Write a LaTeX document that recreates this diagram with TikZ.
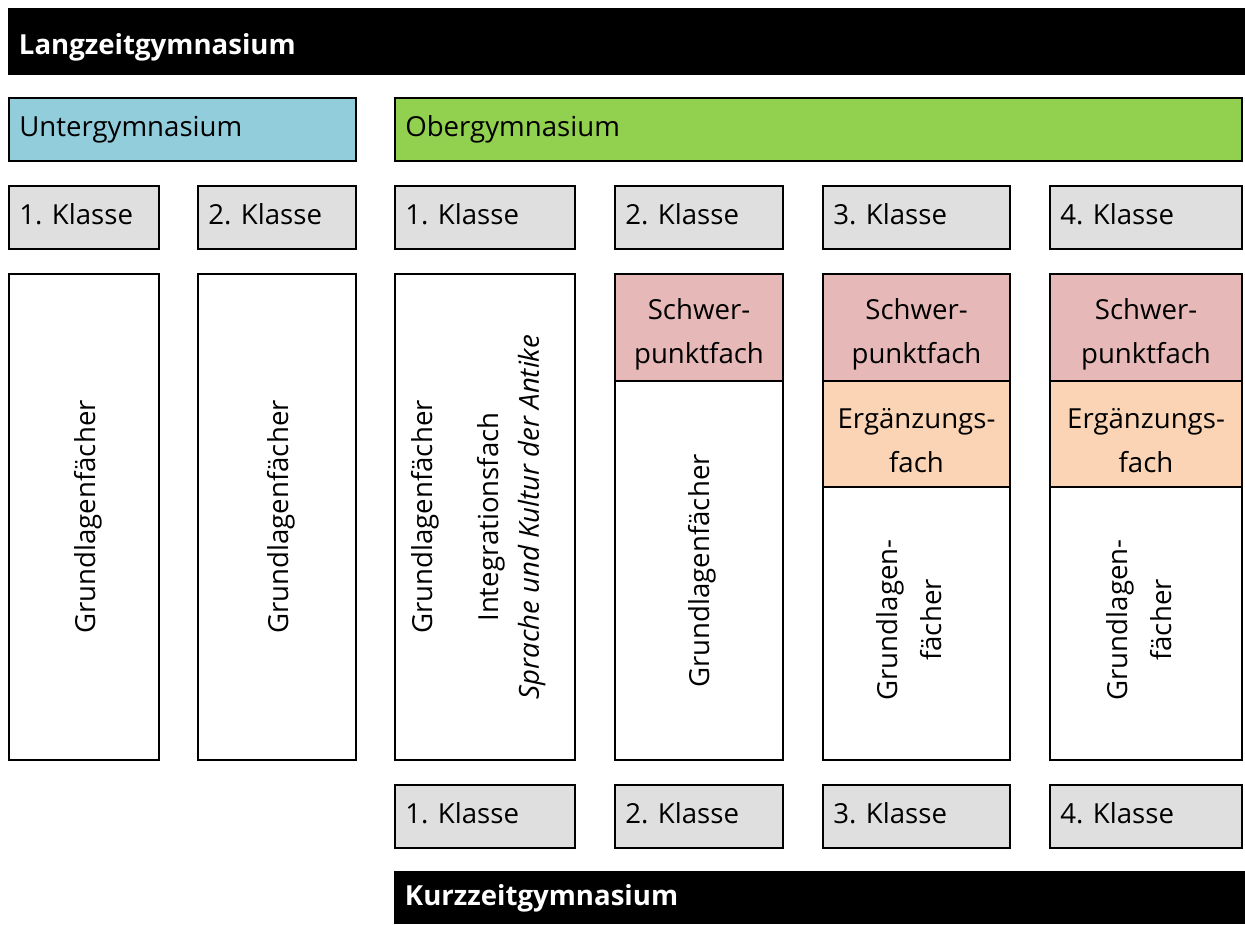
\documentclass[tikz,border=0pt]{standalone}
\usepackage{fontspec}
\setmainfont{Open Sans}
\definecolor{unterblue}{HTML}{92CDDC}
\definecolor{obergreen}{HTML}{92D050}
\definecolor{klgray}{HTML}{DFDFDF}
\definecolor{spred}{HTML}{E6B8B7}
\definecolor{eforange}{HTML}{FAD4B4}
\newcommand\cell[6]{\node[#2, minimum width={(#5-#3)*0.75pt}, minimum height={(#6-#4)*0.75pt}, anchor=north west] (#1) at (#3,#4) {};}
\tikzset{
  box/.style={draw=black, line width=2.2pt, inner sep=0pt, outer sep=0pt},
  bar/.style={fill=black, inner sep=0pt, outer sep=0pt},
  txt/.style={font=\fontsize{20.7}{33}\selectfont, inner sep=0pt},
  lefttxt/.style={txt, anchor=base west, xshift=7.5pt, yshift=-1pt},
  midtxt/.style={txt, align=center, yshift=-5pt},
  rottxt/.style={txt, rotate=90},
  rottwo/.style={txt, rotate=90, align=center},
  bartxt/.style={font=\fontsize{20.7}{33}\selectfont\bfseries, text=white, inner sep=0pt, anchor=base west, xshift=8pt},
}
\begin{document}
\begin{tikzpicture}[x=0.75pt,y=-0.75pt]
\useasboundingbox (0,0) rectangle (1245,924);
% top bar
\cell{LZ}{bar}{8}{8}{1245}{75}
\node[bartxt] (tLZ) at (LZ.west |- 0,55) {Langzeitgymnasium};
% header boxes
\cell{UG}{box, fill=unterblue}{9}{98}{356}{161}
\node[lefttxt] (tUG) at (UG.west |- 0,135) {Untergymnasium};
\cell{OG}{box, fill=obergreen}{395}{98}{1242}{161}
\node[lefttxt] (tOG) at (OG.west |- 0,135) {Obergymnasium};
% Klasse row top
\cell{KU1}{box, fill=klgray}{9}{186}{159}{249}
\cell{KU2}{box, fill=klgray}{198}{186}{356}{249}
\cell{KO1}{box, fill=klgray}{395}{186}{575}{249}
\cell{KO2}{box, fill=klgray}{615}{186}{783}{249}
\cell{KO3}{box, fill=klgray}{823}{186}{1010}{249}
\cell{KO4}{box, fill=klgray}{1050}{186}{1242}{249}
\node[lefttxt] (tKU1) at (KU1.west |- 0,223) {1. Klasse};
\node[lefttxt] (tKU2) at (KU2.west |- 0,223) {2. Klasse};
\node[lefttxt] (tKO1) at (KO1.west |- 0,223) {1. Klasse};
\node[lefttxt] (tKO2) at (KO2.west |- 0,223) {2. Klasse};
\node[lefttxt] (tKO3) at (KO3.west |- 0,223) {3. Klasse};
\node[lefttxt] (tKO4) at (KO4.west |- 0,223) {4. Klasse};
% columns
\cell{CU1}{box, fill=white}{9}{274}{159}{760}
\cell{CU2}{box, fill=white}{198}{274}{356}{760}
\cell{CO1}{box, fill=white}{395}{274}{575}{760}
\cell{CO2}{box, fill=white}{615}{274}{783}{760}
\cell{CO3}{box, fill=white}{823}{274}{1010}{760}
\cell{CO4}{box, fill=white}{1050}{274}{1242}{760}
\node[rottxt] (gU1) at ([xshift=3pt]CU1.center) {Grundlagenfächer};
\node[rottxt] (gU2) at ([xshift=3pt]CU2.center) {Grundlagenfächer};
\node[rottxt] (gO1) at ([xshift=-45pt]CO1.center) {Grundlagenfächer};
\node[txt, rotate=90, align=center, font=\fontsize{20.7}{30}\selectfont] (iO1) at ([xshift=20pt]CO1.center) {Integrationsfach\\\textit{Sprache und Kultur der Antike}};
% column 2
\cell{SP2}{box, fill=spred}{615}{274}{783}{381}
\node[midtxt] (tSP2) at (SP2.center) {Schwer-\\punktfach};
\coordinate (m2) at (702,571);
\node[rottxt] (gO2) at (m2) {Grundlagenfächer};
% column 3
\cell{SP3}{box, fill=spred}{823}{274}{1010}{381}
\node[midtxt] (tSP3) at (SP3.center) {Schwer-\\punktfach};
\cell{EF3}{box, fill=eforange}{823}{381}{1010}{487}
\node[midtxt] (tEF3) at (EF3.center) {Ergänzungs-\\fach};
\coordinate (m3) at (909,620);
\node[rottwo] (gO3) at (m3) {Grundlagen-\\fächer};
% column 4
\cell{SP4}{box, fill=spred}{1050}{274}{1242}{381}
\node[midtxt] (tSP4) at (SP4.center) {Schwer-\\punktfach};
\cell{EF4}{box, fill=eforange}{1050}{381}{1242}{487}
\node[midtxt] (tEF4) at (EF4.center) {Ergänzungs-\\fach};
\coordinate (m4) at (1139,620);
\node[rottwo] (gO4) at (m4) {Grundlagen-\\fächer};
% Klasse row bottom
\cell{KK1}{box, fill=klgray}{395}{785}{575}{848}
\cell{KK2}{box, fill=klgray}{615}{785}{783}{848}
\cell{KK3}{box, fill=klgray}{823}{785}{1010}{848}
\cell{KK4}{box, fill=klgray}{1050}{785}{1242}{848}
\node[lefttxt] (tKK1) at (KK1.west |- 0,822) {1. Klasse};
\node[lefttxt] (tKK2) at (KK2.west |- 0,822) {2. Klasse};
\node[lefttxt] (tKK3) at (KK3.west |- 0,822) {3. Klasse};
\node[lefttxt] (tKK4) at (KK4.west |- 0,822) {4. Klasse};
% bottom bar
\cell{KZ}{bar}{394}{871}{1245}{924}
\node[bartxt] (tKZ) at (KZ.west |- 0,905) {Kurzzeitgymnasium};
\end{tikzpicture}
\end{document}
